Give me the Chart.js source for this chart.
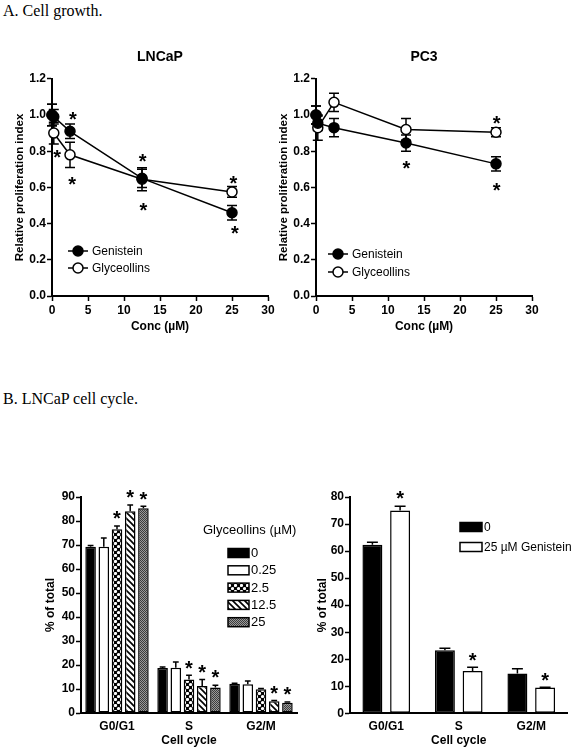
<!DOCTYPE html>
<html>
<head>
<meta charset="utf-8">
<script src="https://cdn.jsdelivr.net/npm/chart.js@4.4.0/dist/chart.umd.min.js"></script>
<style>
  html, body { margin: 0; padding: 0; background: #fff; }
  body { width: 573px; height: 750px; position: relative; overflow: hidden; }
  .hdr { position: absolute; left: 3px; font: 16px/16px "Liberation Serif", "Times New Roman", serif; color: #000; white-space: nowrap; }
  canvas { position: absolute; }
</style>
</head>
<body>
<div class="hdr" style="top:3px">A. Cell growth.</div>
<div class="hdr" style="top:391px">B. LNCaP cell cycle.</div>
<canvas id="lncap" width="290" height="300" style="left:0;top:40px;width:290px;height:300px"></canvas>
<canvas id="pc3" width="290" height="300" style="left:264px;top:40px;width:290px;height:300px"></canvas>
<canvas id="glyBar" width="310" height="310" style="left:0;top:440px;width:310px;height:310px"></canvas>
<canvas id="genBar" width="263" height="310" style="left:310px;top:440px;width:263px;height:310px"></canvas>
<script>
// ---- data ----
const conc = [0, 0.25, 2.5, 12.5, 25];

const lncapGenistein = [1.00, 0.99, 0.91, 0.65, 0.46];
const lncapGenisteinErr = [0.06, 0.04, 0.04, 0.05, 0.04];
const lncapGlyceollins = [1.00, 0.90, 0.78, 0.645, 0.575];
const lncapGlyceollinsErr = [0.06, 0.06, 0.07, 0.063, 0.03];
const lncapStarX = [0.7, 2.9, 2.8, 12.6, 12.7, 25.2, 25.4];
const lncapStarY = [0.79, 1.00, 0.64, 0.77, 0.50, 0.65, 0.37];

const pc3Genistein = [1.00, 0.955, 0.93, 0.845, 0.73];
const pc3GenisteinErr = [0.05, 0.04, 0.05, 0.045, 0.04];
const pc3Glyceollins = [1.00, 0.93, 1.07, 0.92, 0.905];
const pc3GlyceollinsErr = [0.05, 0.07, 0.05, 0.06, 0.025];
const pc3StarX = [25.1, 12.55, 25.1];
const pc3StarY = [0.98, 0.73, 0.61];

const phases = ['G0/G1', 'S', 'G2/M'];
const glyLabels = ['0', '0.25', '2.5', '12.5', '25'];
const gly0 = [69.3, 18.7, 12.2];
const gly0Err = [0.5, 0.5, 0.2];
const gly025 = [69.3, 18.9, 12.0];
const gly025Err = [3.6, 2.4, 1.3];
const gly2_5 = [76.6, 14.0, 9.9];
const gly2_5Err = [1.3, 1.7, 0.3];
const gly12_5 = [84.1, 11.2, 4.9];
const gly12_5Err = [2.6, 2.8, 0.3];
const gly25 = [85.3, 10.6, 4.3];
const gly25Err = [0.8, 1.0, 0.3];
const gly2_5Sig = [true, true, false];
const gly12_5Sig = [true, true, true];
const gly25Sig = [true, true, true];

const genLabels = ['0', '25 \u00b5M Genistein'];
const genCtrl = [62.3, 23.3, 14.7];
const genCtrlErr = [1.0, 0.8, 1.8];
const gen25 = [75.0, 15.6, 9.5];
const gen25Err = [1.6, 1.4, 0.1];
const gen25Sig = [true, true, true];

// ---- helpers ----
const FAM = '"Liberation Sans", Arial, Helvetica, sans-serif';
Chart.defaults.font.family = FAM;
Chart.defaults.color = '#000';

function makePattern(size, paint) {
  const c = document.createElement('canvas');
  c.width = c.height = size;
  paint(c.getContext('2d'), size);
  return c.getContext('2d').createPattern(c, 'repeat');
}
const dotsPattern = makePattern(6, (g, s) => {
  g.fillStyle = '#000'; g.fillRect(0, 0, s, s);
  g.fillStyle = '#fff';
  g.beginPath(); g.arc(1.5, 1.5, 1.6, 0, Math.PI * 2); g.fill();
  g.beginPath(); g.arc(4.5, 4.5, 1.6, 0, Math.PI * 2); g.fill();
});
const hatchPattern = makePattern(6, (g, s) => {
  g.fillStyle = '#fff'; g.fillRect(0, 0, s, s);
  g.strokeStyle = '#000'; g.lineWidth = 1.6;
  g.beginPath();
  g.moveTo(-1, -1); g.lineTo(s + 1, s + 1);
  g.moveTo(-1, s - 1); g.lineTo(1, s + 1);
  g.moveTo(s - 1, -1); g.lineTo(s + 1, 1);
  g.stroke();
});
const grayPattern = makePattern(2, (g) => {
  g.fillStyle = '#9a9a9a'; g.fillRect(0, 0, 2, 2);
  g.fillStyle = '#3c3c3c'; g.fillRect(0, 0, 1, 1); g.fillRect(1, 1, 1, 1);
});

function drawErrors(chart, opts) {
  const ctx = chart.ctx, yScale = chart.scales.y;
  ctx.save();
  ctx.strokeStyle = '#000';
  ctx.lineWidth = opts.lineWidth;
  chart.data.datasets.forEach((ds, di) => {
    if (!ds.errors) return;
    chart.getDatasetMeta(di).data.forEach((el, i) => {
      const raw = ds.data[i];
      const v = typeof raw === 'object' ? raw.y : raw;
      const e = ds.errors[i];
      const top = yScale.getPixelForValue(v + e);
      const bot = opts.both ? yScale.getPixelForValue(v - e) : el.y;
      const hw = opts.both ? opts.capHalf : el.width * opts.capFrac / 2;
      ctx.beginPath();
      ctx.moveTo(el.x, top); ctx.lineTo(el.x, bot);
      ctx.moveTo(el.x - hw, top); ctx.lineTo(el.x + hw, top);
      if (opts.both) { ctx.moveTo(el.x - hw, bot); ctx.lineTo(el.x + hw, bot); }
      ctx.stroke();
    });
  });
  ctx.restore();
}
const errorBars = {
  id: 'errorBars',
  beforeDatasetsDraw(chart, args, opts) { if (opts.both) drawErrors(chart, opts); },
  afterDatasetsDraw(chart, args, opts) { if (!opts.both) drawErrors(chart, opts); }
};

const stars = {
  id: 'stars',
  afterDatasetsDraw(chart, args, opts) {
    const ctx = chart.ctx, size = opts.size;
    const xs = chart.scales.x, ys = chart.scales.y;
    ctx.save();
    ctx.fillStyle = '#000';
    ctx.font = 'bold ' + size + 'px ' + FAM;
    ctx.textAlign = 'center';
    ctx.textBaseline = 'alphabetic';
    const put = (x, y) => ctx.fillText('*', x, y + size * 0.56);
    if (opts.xs) opts.xs.forEach((xv, i) => put(xs.getPixelForValue(xv), ys.getPixelForValue(opts.ys[i])));
    chart.data.datasets.forEach((ds, di) => {
      if (!ds.sig) return;
      chart.getDatasetMeta(di).data.forEach((el, i) => {
        if (ds.sig[i]) put(el.x, ys.getPixelForValue(ds.data[i] + ds.errors[i]) - opts.gap);
      });
    });
    ctx.restore();
  }
};

const lineLegend = {
  id: 'lineLegend',
  afterDraw(chart, args, opts) {
    const { ctx, chartArea } = chart;
    ctx.save();
    ctx.font = opts.fontSize + 'px ' + FAM;
    ctx.textBaseline = 'middle';
    chart.data.datasets.forEach((ds, i) => {
      const y = chartArea.bottom + opts.y + i * opts.rowGap;
      const x0 = chartArea.left + opts.x;
      ctx.strokeStyle = '#000';
      ctx.lineWidth = ds.borderWidth;
      ctx.beginPath(); ctx.moveTo(x0, y); ctx.lineTo(x0 + opts.lineLen, y); ctx.stroke();
      ctx.beginPath(); ctx.arc(x0 + opts.lineLen / 2, y, ds.pointRadius, 0, Math.PI * 2);
      ctx.fillStyle = ds.pointBackgroundColor; ctx.fill();
      ctx.lineWidth = ds.pointBorderWidth; ctx.stroke();
      ctx.fillStyle = '#000';
      ctx.fillText(ds.label, x0 + opts.textX, y + 0.5);
    });
    ctx.restore();
  }
};

const boxLegend = {
  id: 'boxLegend',
  afterDraw(chart, args, opts) {
    const ctx = chart.ctx;
    ctx.save();
    ctx.font = opts.fontSize + 'px ' + FAM;
    ctx.textBaseline = 'middle';
    ctx.fillStyle = '#000';
    if (opts.title) ctx.fillText(opts.title, opts.titleX, opts.titleY);
    chart.data.datasets.forEach((ds, i) => {
      const y = opts.y + i * opts.rowGap;
      ctx.fillStyle = ds.backgroundColor;
      ctx.fillRect(opts.x, y - opts.boxH / 2, opts.boxW, opts.boxH);
      ctx.strokeStyle = '#000'; ctx.lineWidth = 1.5;
      ctx.strokeRect(opts.x, y - opts.boxH / 2, opts.boxW, opts.boxH);
      ctx.fillStyle = '#000';
      ctx.fillText(ds.label, opts.x + opts.boxW + 2, y + 0.5);
    });
    ctx.restore();
  }
};

function axisStyle(extra) {
  return Object.assign({
    border: { color: '#000', width: 2 },
    grid: { drawOnChartArea: false, color: '#000', tickColor: '#000', tickWidth: 1.5, tickLength: 5 },
    ticks: { color: '#000', padding: 1, font: { family: FAM, weight: 'bold', size: 12 } }
  }, extra);
}

function growthChart(id, title, gen, genErr, gly, glyErr, starX, starY, legend) {
  const series = (label, vals, errs, fill) => ({
    label,
    data: conc.map((x, i) => ({ x, y: vals[i] })),
    errors: errs,
    showLine: true,
    borderColor: '#000', borderWidth: 1.5,
    pointRadius: 5, pointHoverRadius: 5,
    pointBackgroundColor: fill, pointBorderColor: '#000', pointBorderWidth: 1.5,
    clip: false
  });
  return new Chart(document.getElementById(id), {
    type: 'scatter',
    data: { datasets: [
      series('Genistein', gen, genErr, '#000'),
      series('Glyceollins', gly, glyErr, '#fff')
    ] },
    options: {
      responsive: false, animation: false, devicePixelRatio: 1,
      layout: { padding: { left: 4, right: 22, top: 0, bottom: 4 } },
      plugins: {
        legend: { display: false }, tooltip: { enabled: false },
        title: { display: true, text: title, fullSize: false, color: '#000',
          font: { family: FAM, size: 14, weight: 'bold' }, padding: { top: 9, bottom: 13 } },
        errorBars: { both: true, capHalf: 5, lineWidth: 1.5 },
        stars: { xs: starX, ys: starY, size: 20 },
        lineLegend: legend
      },
      scales: {
        x: axisStyle({
          type: 'linear', min: 0, max: 30,
          afterFit: s => { s.height = 40; },
          ticks: { color: '#000', padding: 2, stepSize: 5, font: { family: FAM, weight: 'bold', size: 12 } },
          title: { display: true, text: 'Conc (\u00b5M)', color: '#000', padding: { top: 0, bottom: 2 },
            font: { family: FAM, weight: 'bold', size: 12 } }
        }),
        y: axisStyle({
          min: 0, max: 1.2,
          afterFit: s => { s.width = 48; },
          ticks: { color: '#000', padding: 1, stepSize: 0.2, callback: v => v.toFixed(1),
            font: { family: FAM, weight: 'bold', size: 12 } },
          title: { display: true, text: 'Relative proliferation index', color: '#000', padding: { top: 9, bottom: 0 },
            font: { family: FAM, weight: 'bold', size: 11.5 } }
        })
      }
    },
    plugins: [errorBars, stars, lineLegend]
  });
}

growthChart('lncap', 'LNCaP', lncapGenistein, lncapGenisteinErr, lncapGlyceollins, lncapGlyceollinsErr,
  lncapStarX, lncapStarY, { x: 16, y: -45, rowGap: 17, lineLen: 20, textX: 24, fontSize: 12 });
growthChart('pc3', 'PC3', pc3Genistein, pc3GenisteinErr, pc3Glyceollins, pc3GlyceollinsErr,
  pc3StarX, pc3StarY, { x: 12, y: -42, rowGap: 18, lineLen: 20, textX: 24, fontSize: 12 });

function cycleChart(id, datasets, yMax, pad, yWidth, yTitlePad, xHeight, catPct, barPct, legend) {
  return new Chart(document.getElementById(id), {
    type: 'bar',
    data: { labels: phases, datasets },
    options: {
      responsive: false, animation: false, devicePixelRatio: 1,
      layout: { padding: pad },
      datasets: { bar: { categoryPercentage: catPct, barPercentage: barPct, borderColor: '#000',
        borderWidth: 1.5, borderSkipped: false } },
      plugins: {
        legend: { display: false }, tooltip: { enabled: false },
        errorBars: { both: false, capFrac: 0.55, lineWidth: 1.5 },
        stars: { size: 20, gap: 12 },
        boxLegend: legend
      },
      scales: {
        x: axisStyle({
          afterFit: s => { s.height = xHeight; },
          grid: { drawOnChartArea: false, drawTicks: false, color: '#000' },
          ticks: { color: '#000', padding: 6, font: { family: FAM, weight: 'bold', size: 12 } },
          title: { display: true, text: 'Cell cycle', color: '#000', padding: { top: 0, bottom: 0 },
            font: { family: FAM, weight: 'bold', size: 12 } }
        }),
        y: axisStyle({
          min: 0, max: yMax,
          afterFit: s => { s.width = yWidth; },
          ticks: { color: '#000', padding: 1, stepSize: 10, font: { family: FAM, weight: 'bold', size: 12 } },
          title: { display: true, text: '% of total', color: '#000', padding: { top: yTitlePad, bottom: 0 },
            font: { family: FAM, weight: 'bold', size: 12 } }
        })
      }
    },
    plugins: [errorBars, stars, boxLegend]
  });
}

cycleChart('glyBar', [
  { label: glyLabels[0], data: gly0, errors: gly0Err, backgroundColor: '#000' },
  { label: glyLabels[1], data: gly025, errors: gly025Err, backgroundColor: '#fff' },
  { label: glyLabels[2], data: gly2_5, errors: gly2_5Err, sig: gly2_5Sig, backgroundColor: dotsPattern },
  { label: glyLabels[3], data: gly12_5, errors: gly12_5Err, sig: gly12_5Sig, backgroundColor: hatchPattern },
  { label: glyLabels[4], data: gly25, errors: gly25Err, sig: gly25Sig, backgroundColor: grayPattern }
], 90, { left: 4, right: 13, top: 57, bottom: 2 }, 77, 39, 35, 0.917, 0.8,
  { title: 'Glyceollins (\u00b5M)', titleX: 203, titleY: 90, x: 228, y: 113, rowGap: 17.3,
    boxW: 21, boxH: 9, fontSize: 13 });

cycleChart('genBar', [
  { label: genLabels[0], data: genCtrl, errors: genCtrlErr, backgroundColor: '#000' },
  { label: genLabels[1], data: gen25, errors: gen25Err, sig: gen25Sig, backgroundColor: '#fff' }
], 80, { left: 2, right: 5.5, top: 57, bottom: 2 }, 38, 3, 34.7, 0.764, 0.72,
  { x: 150, y: 87, rowGap: 20, boxW: 22, boxH: 9, fontSize: 12 });
</script>
</body>
</html>
